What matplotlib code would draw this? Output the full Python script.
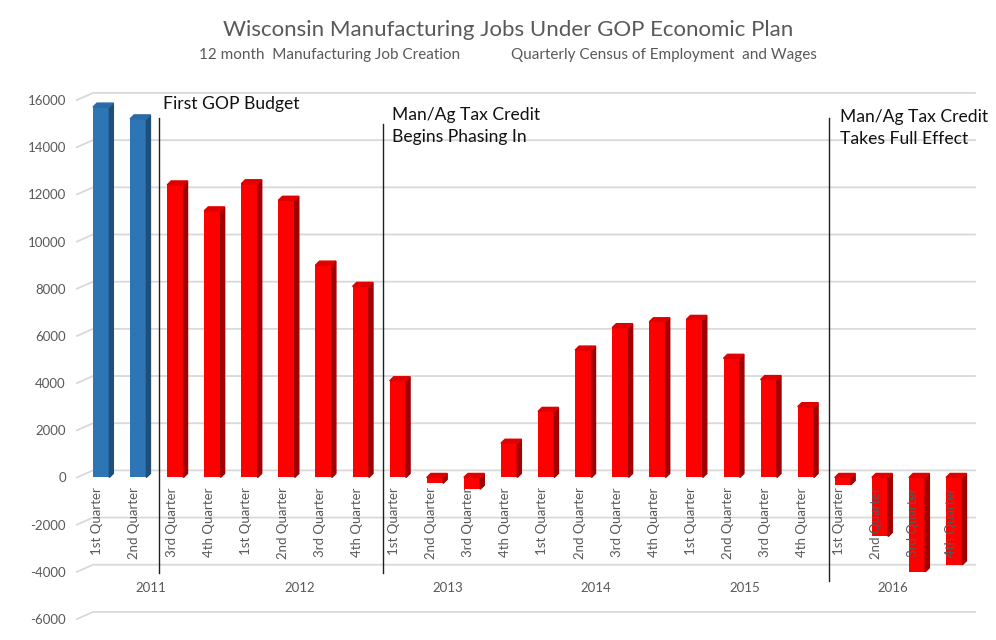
import matplotlib
matplotlib.use('Agg')
import matplotlib.pyplot as plt
from matplotlib.patches import Polygon

plt.rcParams['font.family'] = ['Lato', 'DejaVu Sans']

# data
years = ['2011', '2012', '2013', '2014', '2015', '2016']
quarters = ['1st Quarter', '2nd Quarter', '3rd Quarter', '4th Quarter']
jobs = [15700, 15200, 12400, 11300, 12450, 11750, 9000, 8100,
        4100, -250, -500, 1450, 2800, 5400, 6350, 6600,
        6700, 5050, 4150, 3000, -300, -2500, -4000, -3700]
n_before = 2  # quarters before first GOP budget (blue)

# event lines: position between bars, top, bottom, label
events = [(1.55, 15250, -4050, 'First GOP Budget'),
          (7.6, 14980, -4050, 'Man/Ag Tax Credit\nBegins Phasing In'),
          (19.62, 15240, -4380, 'Man/Ag Tax Credit\nTakes Full Effect')]

fig = plt.figure(figsize=(9.96, 6.4), dpi=100)
ax = fig.add_axes([0.0773, 0.0328, 0.9016, 0.8109])
ax.set_xlim(-0.65, 23.56)
ax.set_ylim(-6000, 16000)
for s in ax.spines.values():
    s.set_visible(False)
ax.set_xticks([])
yt = list(range(-6000, 16001, 2000))
ax.set_yticks(yt)
ax.set_yticklabels([str(v) for v in yt], color='#595959', fontsize=9.5)
ax.tick_params(axis='y', length=0, pad=8)

# gridlines on the back wall (3d look)
dx_wall, dy_wall = 0.43, 300
for v in yt:
    ax.plot([-0.65, -0.65 + dx_wall, 23.56], [v, v + dy_wall, v + dy_wall],
            color='#d9d9d9', lw=1.3, zorder=0, clip_on=False)

# 3d columns
w = 0.44
dx, dy = 0.11, 170
for i, v in enumerate(jobs):
    if i < n_before:
        front, side, top = '#2e75b6', '#1f4e79', '#2a6aa6'
    else:
        front, side, top = '#ff0000', '#a00000', '#e00000'
    ax.bar(i, v, width=w, color=front, zorder=3)
    hi, lo = max(v, 0), min(v, 0)
    xr = i + w / 2
    xl = i - w / 2
    ax.add_patch(Polygon([(xr, lo), (xr + dx, lo + dy), (xr + dx, hi + dy), (xr, hi)],
                         closed=True, color=side, zorder=3))
    ax.add_patch(Polygon([(xl, hi), (xl + dx, hi + dy), (xr + dx, hi + dy), (xr, hi)],
                         closed=True, color=top, zorder=3))

# category labels
for i in range(len(jobs)):
    ax.text(i - 0.1, -430, quarters[i % 4], rotation=90, ha='center', va='top',
            color='#595959', fontsize=9.5, zorder=5)
for k, yr in enumerate(years):
    ax.text(4 * k + 1.35, -4700, yr, ha='center', va='center',
            color='#595959', fontsize=9.5)

# event lines and their notes
note_pos = [(1.67, 16150), (7.84, 15700), (19.92, 15620)]
for (x, top_v, bot_v, label), (tx, ty) in zip(events, note_pos):
    ax.plot([x, x], [bot_v, top_v], color='#202020', lw=1, zorder=4)
    ax.text(tx, ty, label, ha='left', va='top', fontsize=12.6,
            color='#111111', linespacing=1.45)

# titles
fig.text(0.51, 0.953, 'Wisconsin Manufacturing Jobs Under GOP Economic Plan',
         ha='center', va='center', fontsize=16, color='#595959')
fig.text(0.331, 0.914, '12 month  Manufacturing Job Creation',
         ha='center', va='center', fontsize=11, color='#595959')
fig.text(0.667, 0.914, 'Quarterly Census of Employment  and Wages',
         ha='center', va='center', fontsize=11, color='#595959')

fig.savefig('out.png', dpi=100)
